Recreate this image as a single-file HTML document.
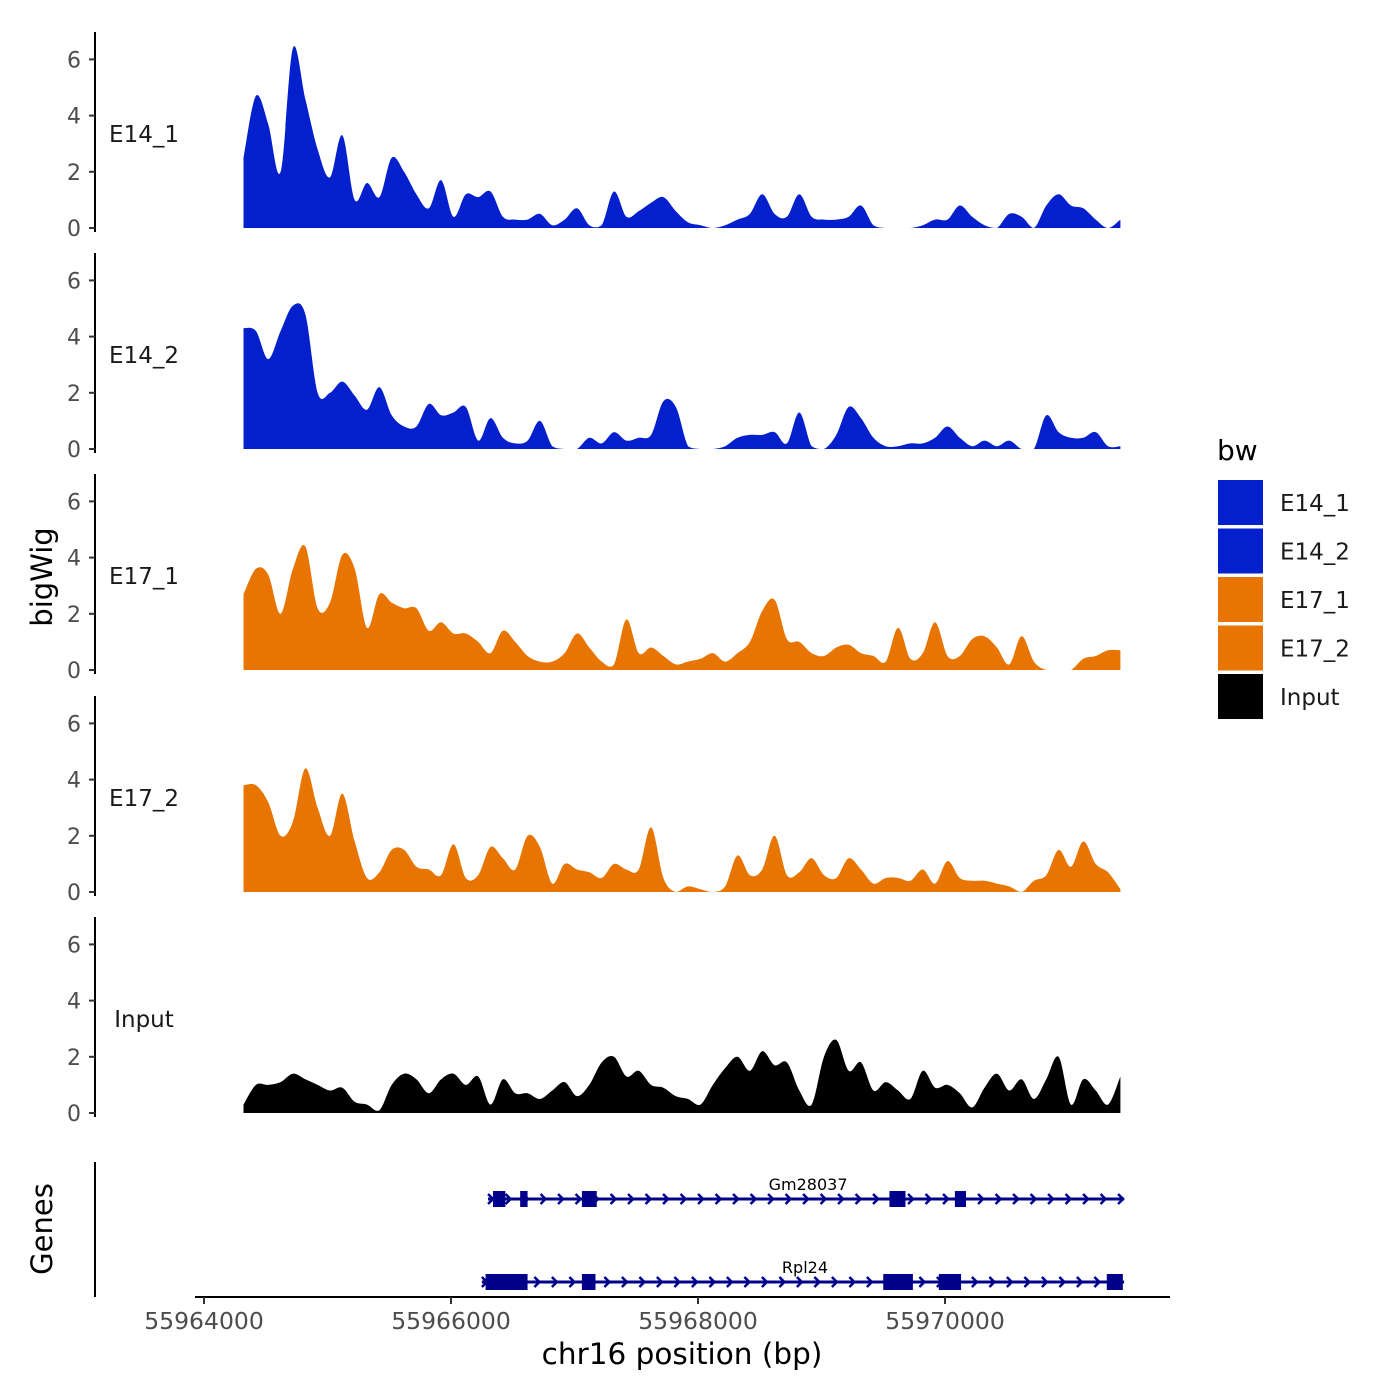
<!DOCTYPE html>
<html><head><meta charset="utf-8"><style>
body{margin:0;background:#fff}
svg{display:block;font-family:"DejaVu Sans","Liberation Sans",sans-serif}
</style></head><body>
<svg id="chart" width="1400" height="1400" viewBox="0 0 1400 1400">
<rect width="1400" height="1400" fill="#fff"/>
<g id="panels"></g>
<g id="genes"></g>
<g id="xaxis"></g>
<text x="682" y="1364" font-size="29.5" text-anchor="middle" fill="#000">chr16 position (bp)</text>
<text transform="translate(52,577) rotate(-90)" font-size="29" text-anchor="middle" fill="#000">bigWig</text>
<text transform="translate(52,1229) rotate(-90)" font-size="29" text-anchor="middle" fill="#000">Genes</text>
<g id="legend"></g>
</svg>
<script>
const trackNames=["E14_1","E14_2","E17_1","E17_2","Input"];
const trackColors=["#0420CC","#0420CC","#E87502","#E87502","#000000"];
const startPos=55964320, stepBp=100;
const e14_1=[2.5,4.7,3.7,2.0,6.4,4.6,2.8,1.8,3.3,1.0,1.6,1.1,2.5,2.0,1.2,0.7,1.7,0.4,1.2,1.1,1.3,0.4,0.3,0.3,0.5,0.1,0.3,0.7,0.1,0.1,1.3,0.4,0.6,0.9,1.1,0.6,0.2,0.1,0,0.1,0.3,0.5,1.2,0.5,0.4,1.2,0.4,0.3,0.3,0.4,0.8,0.1,0,0,0,0.1,0.3,0.3,0.8,0.4,0.1,0,0.5,0.4,0,0.8,1.2,0.8,0.7,0.3,0,0.3];
const e14_2=[4.3,4.2,3.2,4.2,5.1,4.8,2.0,2.0,2.4,1.9,1.4,2.2,1.2,0.8,0.8,1.6,1.2,1.3,1.5,0.3,1.1,0.4,0.2,0.3,1.0,0.1,0,0,0.4,0.2,0.6,0.3,0.4,0.5,1.7,1.5,0.1,0,0,0.1,0.4,0.5,0.5,0.6,0.2,1.3,0.1,0,0.5,1.5,1.1,0.4,0.1,0.1,0.2,0.2,0.4,0.8,0.4,0.1,0.3,0.1,0.3,0,0,1.2,0.6,0.4,0.4,0.6,0.1,0.1];
const e17_1=[2.7,3.6,3.4,2.0,3.6,4.4,2.2,2.4,4.1,3.6,1.5,2.7,2.4,2.2,2.2,1.4,1.7,1.3,1.3,1.0,0.6,1.4,1.0,0.5,0.3,0.3,0.6,1.3,0.8,0.3,0.2,1.8,0.6,0.8,0.5,0.2,0.3,0.4,0.6,0.3,0.6,1.0,2.1,2.5,1.1,1.0,0.6,0.5,0.8,0.9,0.6,0.5,0.3,1.5,0.4,0.6,1.7,0.5,0.5,1.1,1.2,0.8,0.2,1.2,0.3,0,0,0,0.4,0.5,0.7,0.7];
const e17_2=[3.8,3.8,3.2,2.0,2.5,4.4,3.0,2.0,3.5,1.8,0.5,0.7,1.5,1.5,0.9,0.8,0.6,1.7,0.5,0.6,1.6,1.2,0.8,2.0,1.6,0.3,1.0,0.8,0.7,0.5,1.0,0.8,0.8,2.3,0.5,0,0.2,0.1,0,0.2,1.3,0.6,0.8,2.0,0.6,0.7,1.2,0.6,0.5,1.2,0.8,0.3,0.5,0.5,0.4,0.8,0.3,1.1,0.5,0.4,0.4,0.3,0.2,0,0.4,0.6,1.5,0.9,1.8,1.0,0.7,0.1];
const input=[0.3,1.0,1.0,1.1,1.4,1.2,1.0,0.8,0.9,0.4,0.3,0.1,1.0,1.4,1.2,0.7,1.2,1.4,1.0,1.3,0.3,1.2,0.7,0.7,0.5,0.8,1.1,0.6,1.0,1.8,2.0,1.3,1.5,1.0,0.9,0.6,0.5,0.3,1.0,1.6,2.0,1.5,2.2,1.7,1.8,0.8,0.3,2.0,2.6,1.5,1.8,0.8,1.1,0.8,0.5,1.5,0.9,1.0,0.7,0.2,0.9,1.4,0.8,1.2,0.5,1.2,2.0,0.3,1.2,0.8,0.3,1.3];
const trackValues=[e14_1,e14_2,e17_1,e17_2,input];
const yTicks=[0,2,4,6];
const xTicks=[55964000,55966000,55968000,55970000];
const geneNames=["Gm28037","Rpl24"];
const gmSpan=[55966300,55971450];
const gmExons=[[55966340,55966440],[55966560,55966620],[55967060,55967180],[55969550,55969680],[55970080,55970170]];
const rplSpan=[55966250,55971450];
const rplExons=[[55966280,55966620],[55967060,55967170],[55969500,55969740],[55969950,55970130],[55971310,55971440]];

const NS="http://www.w3.org/2000/svg";
function mk(tag,attrs,parent){const e=document.createElementNS(NS,tag);for(const k in attrs)e.setAttribute(k,attrs[k]);parent.appendChild(e);return e;}
const xScale=bp=>204+(bp-55964000)*(247/2000);
const panelZero=[228,449,670,892,1113];
const yUnit=28.1;
const panels=document.getElementById('panels');
trackNames.forEach((name,t)=>{
  const g=mk('g',{},panels);
  
  
  const z=panelZero[t];
  const ax=mk('line',{x1:95,x2:95,y1:z-196,y2:z+4,stroke:'#000','stroke-width':2},g);
  
  
  yTicks.forEach(v=>{
    const y=z-v*yUnit;
    const tk=mk('line',{x1:89,x2:95,y1:y,y2:y,stroke:'#333','stroke-width':2},g);
    
    
    const tl=mk('text',{x:81,y:y+8,'font-size':22,'text-anchor':'end',fill:'#4d4d4d'},g);
    tl.textContent=v;
    
    
  });
  const vals=trackValues[t];
  let d='M'+xScale(startPos).toFixed(1)+','+z;
  const pts=vals.map((v,i)=>[xScale(startPos+i*stepBp),z-v*yUnit]);
  d+=' L'+pts[0][0].toFixed(1)+','+pts[0][1].toFixed(1);
  for(let i=0;i<pts.length-1;i++){
    const p0=pts[Math.max(0,i-1)],p1=pts[i],p2=pts[i+1],p3=pts[Math.min(pts.length-1,i+2)];
    let c1y=p1[1]+(p2[1]-p0[1])/6,c2y=p2[1]-(p3[1]-p1[1])/6;
    c1y=Math.min(c1y,z);c2y=Math.min(c2y,z);
    d+=' C'+(p1[0]+(p2[0]-p0[0])/6).toFixed(1)+','+c1y.toFixed(1)+' '+(p2[0]-(p3[0]-p1[0])/6).toFixed(1)+','+c2y.toFixed(1)+' '+p2[0].toFixed(1)+','+p2[1].toFixed(1);
  }
  d+=' L'+pts[pts.length-1][0].toFixed(1)+','+z+' Z';
  const area=mk('path',{d:d,fill:trackColors[t]},g);
  
  
  const lab=mk('text',{x:144,y:z-86,'font-size':23,'text-anchor':'middle',fill:'#1a1a1a'},g);
  lab.textContent=name;
  
  
});
const gg=document.getElementById('genes');
const gAx=mk('line',{x1:95,x2:95,y1:1162,y2:1297,stroke:'#000','stroke-width':2},gg);


[[gmSpan,gmExons,1199,geneNames[0]],[rplSpan,rplExons,1282,geneNames[1]]].forEach(([span,exons,y,nm])=>{
  const g=mk('g',{},gg);
  
  
  const x0=xScale(span[0]),x1=xScale(span[1]);
  mk('line',{x1:x0,x2:x1,y1:y,y2:y,stroke:'#00008B','stroke-width':3},g);
  for(let x=x0+4;x<=x1;x+=17.5){
    mk('path',{d:`M${x-4},${y-5} L${x+1},${y} L${x-4},${y+5}`,fill:'none',stroke:'#00008B','stroke-width':2.5},g);
  }
  exons.forEach(e=>{
    const ex=mk('rect',{x:xScale(e[0]),y:y-8,width:xScale(e[1])-xScale(e[0]),height:16,fill:'#00008B'},g);
    
    
  });
  const t=mk('text',{x:(x0+x1)/2+2,y:y-9,'font-size':16,'text-anchor':'middle',fill:'#000'},g);
  t.textContent=nm;
  
  
});
const xa=document.getElementById('xaxis');
mk('line',{x1:195,x2:1170,y1:1297,y2:1297,stroke:'#000','stroke-width':2},xa);
xTicks.forEach(v=>{
  const x=xScale(v);
  const tk=mk('line',{x1:x,x2:x,y1:1297,y2:1304,stroke:'#333','stroke-width':2},xa);
  
  
  const tl=mk('text',{x:x,y:1329,'font-size':23.5,'text-anchor':'middle',fill:'#4d4d4d'},xa);
  tl.textContent=v;
  
  
});
const lg=document.getElementById('legend');
const lt=mk('text',{x:1217,y:460,'font-size':28,fill:'#000'},lg);
lt.textContent='bw';


trackNames.forEach((n,i)=>{
  const y=480+i*48.5;
  const g=mk('g',{},lg);
  
  
  mk('rect',{x:1218,y:y,width:45,height:45,fill:trackColors[i]},g);
  const t=mk('text',{x:1280,y:y+31,'font-size':23,fill:'#1a1a1a'},g);
  t.textContent=n;
});
</script>
</body></html>
